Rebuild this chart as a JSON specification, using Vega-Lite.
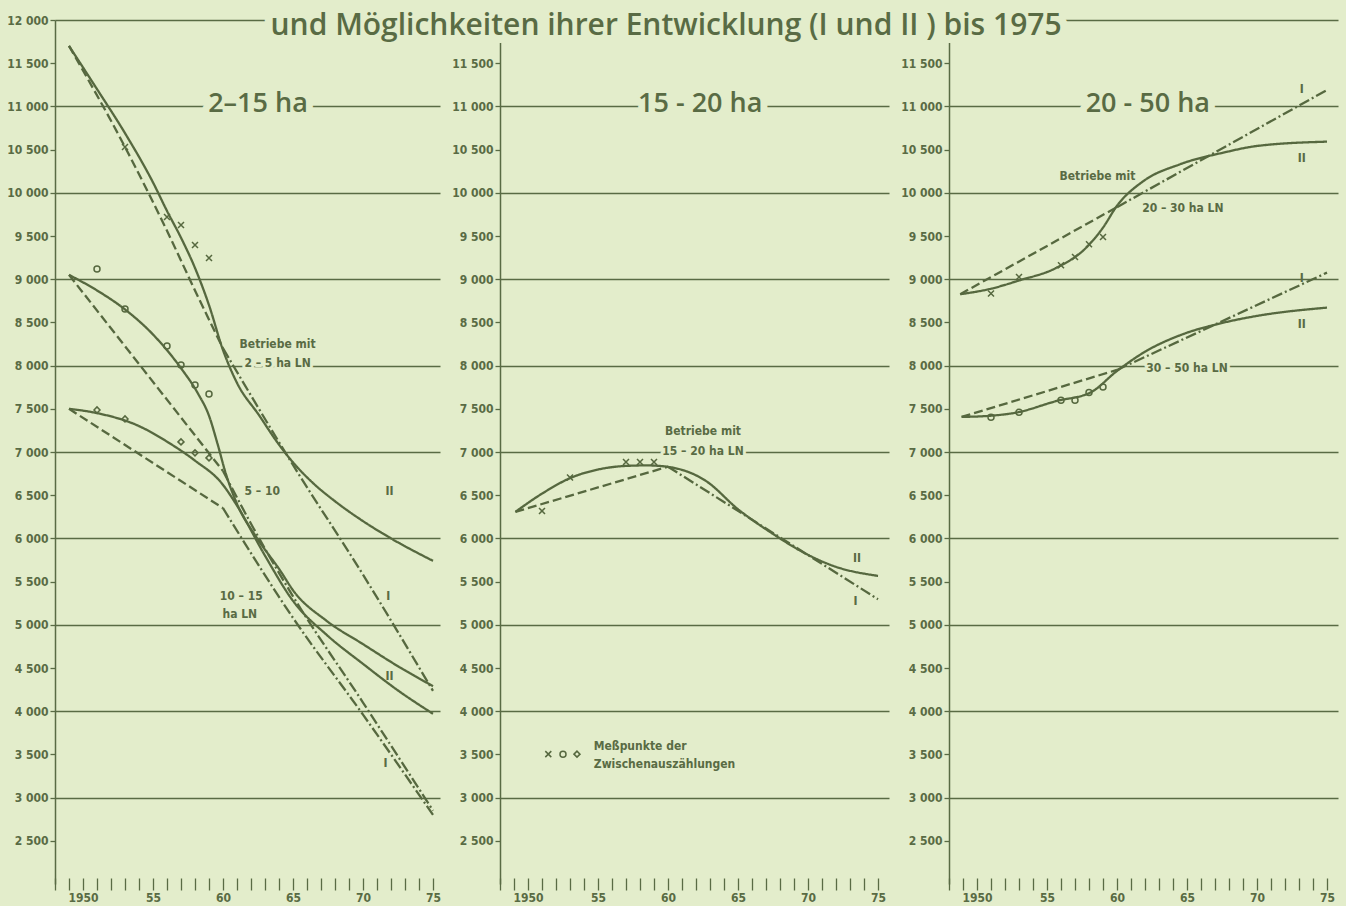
{
  "$schema": "https://vega.github.io/schema/vega-lite/v6.json",
  "padding": {"left": 6, "top": 10, "right": 8, "bottom": 3},
  "bounds": "flush",
  "spacing": 60,
  "resolve": {"scale": {"x": "independent", "y": "independent"}},
  "datasets": {
    "gridYears": [{"year": 1950}, {"year": 1955}, {"year": 1960}, {"year": 1965}, {"year": 1970}, {"year": 1975}],
    "curves": [
      {"panel": "2-15 ha", "series": "2-5", "kind": "II", "year": 1949, "value": 11700},
      {"panel": "2-15 ha", "series": "2-5", "kind": "II", "year": 1951, "value": 11200},
      {"panel": "2-15 ha", "series": "2-5", "kind": "II", "year": 1953, "value": 10690},
      {"panel": "2-15 ha", "series": "2-5", "kind": "II", "year": 1955, "value": 10120},
      {"panel": "2-15 ha", "series": "2-5", "kind": "II", "year": 1956, "value": 9790},
      {"panel": "2-15 ha", "series": "2-5", "kind": "II", "year": 1957, "value": 9480},
      {"panel": "2-15 ha", "series": "2-5", "kind": "II", "year": 1958, "value": 9130},
      {"panel": "2-15 ha", "series": "2-5", "kind": "II", "year": 1959, "value": 8700},
      {"panel": "2-15 ha", "series": "2-5", "kind": "II", "year": 1960, "value": 8180},
      {"panel": "2-15 ha", "series": "2-5", "kind": "II", "year": 1961, "value": 7800},
      {"panel": "2-15 ha", "series": "2-5", "kind": "II", "year": 1962.6, "value": 7420},
      {"panel": "2-15 ha", "series": "2-5", "kind": "II", "year": 1963.8, "value": 7130},
      {"panel": "2-15 ha", "series": "2-5", "kind": "II", "year": 1965, "value": 6880},
      {"panel": "2-15 ha", "series": "2-5", "kind": "II", "year": 1966.5, "value": 6630},
      {"panel": "2-15 ha", "series": "2-5", "kind": "II", "year": 1968, "value": 6430},
      {"panel": "2-15 ha", "series": "2-5", "kind": "II", "year": 1970, "value": 6200},
      {"panel": "2-15 ha", "series": "2-5", "kind": "II", "year": 1972, "value": 6000},
      {"panel": "2-15 ha", "series": "2-5", "kind": "II", "year": 1975, "value": 5740},
      {"panel": "2-15 ha", "series": "2-5", "kind": "Trend", "year": 1949, "value": 11700},
      {"panel": "2-15 ha", "series": "2-5", "kind": "Trend", "year": 1953, "value": 10530},
      {"panel": "2-15 ha", "series": "2-5", "kind": "Trend", "year": 1956, "value": 9560},
      {"panel": "2-15 ha", "series": "2-5", "kind": "Trend", "year": 1958, "value": 8870},
      {"panel": "2-15 ha", "series": "2-5", "kind": "Trend", "year": 1960, "value": 8200},
      {"panel": "2-15 ha", "series": "2-5", "kind": "Projektion", "year": 1960, "value": 8200},
      {"panel": "2-15 ha", "series": "2-5", "kind": "Projektion", "year": 1965, "value": 6850},
      {"panel": "2-15 ha", "series": "2-5", "kind": "Projektion", "year": 1970, "value": 5580},
      {"panel": "2-15 ha", "series": "2-5", "kind": "Projektion", "year": 1975, "value": 4235},
      {"panel": "2-15 ha", "series": "5-10", "kind": "II", "year": 1949, "value": 9050},
      {"panel": "2-15 ha", "series": "5-10", "kind": "II", "year": 1951, "value": 8870},
      {"panel": "2-15 ha", "series": "5-10", "kind": "II", "year": 1953, "value": 8650},
      {"panel": "2-15 ha", "series": "5-10", "kind": "II", "year": 1955, "value": 8360},
      {"panel": "2-15 ha", "series": "5-10", "kind": "II", "year": 1957, "value": 7970},
      {"panel": "2-15 ha", "series": "5-10", "kind": "II", "year": 1958.2, "value": 7680},
      {"panel": "2-15 ha", "series": "5-10", "kind": "II", "year": 1959, "value": 7420},
      {"panel": "2-15 ha", "series": "5-10", "kind": "II", "year": 1959.6, "value": 7100},
      {"panel": "2-15 ha", "series": "5-10", "kind": "II", "year": 1960.2, "value": 6750},
      {"panel": "2-15 ha", "series": "5-10", "kind": "II", "year": 1961, "value": 6400},
      {"panel": "2-15 ha", "series": "5-10", "kind": "II", "year": 1962.4, "value": 6010},
      {"panel": "2-15 ha", "series": "5-10", "kind": "II", "year": 1964.1, "value": 5624},
      {"panel": "2-15 ha", "series": "5-10", "kind": "II", "year": 1965, "value": 5400},
      {"panel": "2-15 ha", "series": "5-10", "kind": "II", "year": 1967.4, "value": 5046},
      {"panel": "2-15 ha", "series": "5-10", "kind": "II", "year": 1970, "value": 4776},
      {"panel": "2-15 ha", "series": "5-10", "kind": "II", "year": 1972.5, "value": 4520},
      {"panel": "2-15 ha", "series": "5-10", "kind": "II", "year": 1975, "value": 4290},
      {"panel": "2-15 ha", "series": "5-10", "kind": "Trend", "year": 1949, "value": 9050},
      {"panel": "2-15 ha", "series": "5-10", "kind": "Trend", "year": 1960, "value": 6780},
      {"panel": "2-15 ha", "series": "5-10", "kind": "Projektion", "year": 1960, "value": 6780},
      {"panel": "2-15 ha", "series": "5-10", "kind": "Projektion", "year": 1962, "value": 6170},
      {"panel": "2-15 ha", "series": "5-10", "kind": "Projektion", "year": 1965, "value": 5330},
      {"panel": "2-15 ha", "series": "5-10", "kind": "Projektion", "year": 1970, "value": 4100},
      {"panel": "2-15 ha", "series": "5-10", "kind": "Projektion", "year": 1975, "value": 2850},
      {"panel": "2-15 ha", "series": "10-15", "kind": "II", "year": 1949, "value": 7500},
      {"panel": "2-15 ha", "series": "10-15", "kind": "II", "year": 1951, "value": 7450},
      {"panel": "2-15 ha", "series": "10-15", "kind": "II", "year": 1954, "value": 7300},
      {"panel": "2-15 ha", "series": "10-15", "kind": "II", "year": 1956, "value": 7120},
      {"panel": "2-15 ha", "series": "10-15", "kind": "II", "year": 1958, "value": 6900},
      {"panel": "2-15 ha", "series": "10-15", "kind": "II", "year": 1959.9, "value": 6640},
      {"panel": "2-15 ha", "series": "10-15", "kind": "II", "year": 1961, "value": 6380},
      {"panel": "2-15 ha", "series": "10-15", "kind": "II", "year": 1963, "value": 5800},
      {"panel": "2-15 ha", "series": "10-15", "kind": "II", "year": 1965, "value": 5277},
      {"panel": "2-15 ha", "series": "10-15", "kind": "II", "year": 1967.5, "value": 4870},
      {"panel": "2-15 ha", "series": "10-15", "kind": "II", "year": 1970, "value": 4548},
      {"panel": "2-15 ha", "series": "10-15", "kind": "II", "year": 1972.5, "value": 4240},
      {"panel": "2-15 ha", "series": "10-15", "kind": "II", "year": 1975, "value": 3970},
      {"panel": "2-15 ha", "series": "10-15", "kind": "Trend", "year": 1949, "value": 7500},
      {"panel": "2-15 ha", "series": "10-15", "kind": "Trend", "year": 1960, "value": 6350},
      {"panel": "2-15 ha", "series": "10-15", "kind": "Projektion", "year": 1960, "value": 6350},
      {"panel": "2-15 ha", "series": "10-15", "kind": "Projektion", "year": 1965, "value": 5080},
      {"panel": "2-15 ha", "series": "10-15", "kind": "Projektion", "year": 1970, "value": 3960},
      {"panel": "2-15 ha", "series": "10-15", "kind": "Projektion", "year": 1975, "value": 2800},
      {"panel": "15-20 ha", "series": "15-20", "kind": "II", "year": 1949.1, "value": 6307},
      {"panel": "15-20 ha", "series": "15-20", "kind": "II", "year": 1951, "value": 6518},
      {"panel": "15-20 ha", "series": "15-20", "kind": "II", "year": 1953.1, "value": 6704},
      {"panel": "15-20 ha", "series": "15-20", "kind": "II", "year": 1955, "value": 6797},
      {"panel": "15-20 ha", "series": "15-20", "kind": "II", "year": 1957, "value": 6839},
      {"panel": "15-20 ha", "series": "15-20", "kind": "II", "year": 1958.5, "value": 6845},
      {"panel": "15-20 ha", "series": "15-20", "kind": "II", "year": 1960, "value": 6828},
      {"panel": "15-20 ha", "series": "15-20", "kind": "II", "year": 1962.7, "value": 6666},
      {"panel": "15-20 ha", "series": "15-20", "kind": "II", "year": 1965, "value": 6338},
      {"panel": "15-20 ha", "series": "15-20", "kind": "II", "year": 1967.5, "value": 6052},
      {"panel": "15-20 ha", "series": "15-20", "kind": "II", "year": 1969.9, "value": 5818},
      {"panel": "15-20 ha", "series": "15-20", "kind": "II", "year": 1971.8, "value": 5682},
      {"panel": "15-20 ha", "series": "15-20", "kind": "II", "year": 1975, "value": 5566},
      {"panel": "15-20 ha", "series": "15-20", "kind": "Trend", "year": 1949.1, "value": 6307},
      {"panel": "15-20 ha", "series": "15-20", "kind": "Trend", "year": 1960, "value": 6830},
      {"panel": "15-20 ha", "series": "15-20", "kind": "Projektion", "year": 1960, "value": 6830},
      {"panel": "15-20 ha", "series": "15-20", "kind": "Projektion", "year": 1975, "value": 5296},
      {"panel": "20-50 ha", "series": "20-30", "kind": "II", "year": 1948.8, "value": 8826},
      {"panel": "20-50 ha", "series": "20-30", "kind": "II", "year": 1951, "value": 8890},
      {"panel": "20-50 ha", "series": "20-30", "kind": "II", "year": 1953, "value": 8985},
      {"panel": "20-50 ha", "series": "20-30", "kind": "II", "year": 1955.7, "value": 9134},
      {"panel": "20-50 ha", "series": "20-30", "kind": "II", "year": 1957.8, "value": 9365},
      {"panel": "20-50 ha", "series": "20-30", "kind": "II", "year": 1959, "value": 9597},
      {"panel": "20-50 ha", "series": "20-30", "kind": "II", "year": 1960, "value": 9850},
      {"panel": "20-50 ha", "series": "20-30", "kind": "II", "year": 1961.9, "value": 10137},
      {"panel": "20-50 ha", "series": "20-30", "kind": "II", "year": 1964.5, "value": 10330},
      {"panel": "20-50 ha", "series": "20-30", "kind": "II", "year": 1967.6, "value": 10465},
      {"panel": "20-50 ha", "series": "20-30", "kind": "II", "year": 1970, "value": 10542},
      {"panel": "20-50 ha", "series": "20-30", "kind": "II", "year": 1975, "value": 10592},
      {"panel": "20-50 ha", "series": "20-30", "kind": "Trend", "year": 1948.8, "value": 8826},
      {"panel": "20-50 ha", "series": "20-30", "kind": "Trend", "year": 1960, "value": 9834},
      {"panel": "20-50 ha", "series": "20-30", "kind": "Projektion", "year": 1960, "value": 9834},
      {"panel": "20-50 ha", "series": "20-30", "kind": "Projektion", "year": 1975, "value": 11190},
      {"panel": "20-50 ha", "series": "30-50", "kind": "II", "year": 1948.9, "value": 7406},
      {"panel": "20-50 ha", "series": "30-50", "kind": "II", "year": 1951, "value": 7420},
      {"panel": "20-50 ha", "series": "30-50", "kind": "II", "year": 1952.8, "value": 7456},
      {"panel": "20-50 ha", "series": "30-50", "kind": "II", "year": 1955.7, "value": 7591},
      {"panel": "20-50 ha", "series": "30-50", "kind": "II", "year": 1958.1, "value": 7688},
      {"panel": "20-50 ha", "series": "30-50", "kind": "II", "year": 1960, "value": 7938},
      {"panel": "20-50 ha", "series": "30-50", "kind": "II", "year": 1962.1, "value": 8170},
      {"panel": "20-50 ha", "series": "30-50", "kind": "II", "year": 1964.7, "value": 8363},
      {"panel": "20-50 ha", "series": "30-50", "kind": "II", "year": 1967.6, "value": 8497},
      {"panel": "20-50 ha", "series": "30-50", "kind": "II", "year": 1970, "value": 8575},
      {"panel": "20-50 ha", "series": "30-50", "kind": "II", "year": 1975, "value": 8671},
      {"panel": "20-50 ha", "series": "30-50", "kind": "Trend", "year": 1948.9, "value": 7406},
      {"panel": "20-50 ha", "series": "30-50", "kind": "Trend", "year": 1960, "value": 7950},
      {"panel": "20-50 ha", "series": "30-50", "kind": "Projektion", "year": 1960, "value": 7950},
      {"panel": "20-50 ha", "series": "30-50", "kind": "Projektion", "year": 1975, "value": 9076}
    ],
    "points": [
      {"panel": "2-15 ha", "marker": "x", "year": 1953, "value": 10530},
      {"panel": "2-15 ha", "marker": "x", "year": 1956, "value": 9720},
      {"panel": "2-15 ha", "marker": "x", "year": 1957, "value": 9628},
      {"panel": "2-15 ha", "marker": "x", "year": 1958, "value": 9396},
      {"panel": "2-15 ha", "marker": "x", "year": 1959, "value": 9246},
      {"panel": "2-15 ha", "marker": "o", "year": 1951, "value": 9119},
      {"panel": "2-15 ha", "marker": "o", "year": 1953, "value": 8656},
      {"panel": "2-15 ha", "marker": "o", "year": 1956, "value": 8228},
      {"panel": "2-15 ha", "marker": "o", "year": 1957, "value": 8008},
      {"panel": "2-15 ha", "marker": "o", "year": 1958, "value": 7776},
      {"panel": "2-15 ha", "marker": "o", "year": 1959, "value": 7672},
      {"panel": "2-15 ha", "marker": "d", "year": 1951, "value": 7487},
      {"panel": "2-15 ha", "marker": "d", "year": 1953, "value": 7383},
      {"panel": "2-15 ha", "marker": "d", "year": 1957, "value": 7117},
      {"panel": "2-15 ha", "marker": "d", "year": 1958, "value": 6990},
      {"panel": "2-15 ha", "marker": "d", "year": 1959, "value": 6932},
      {"panel": "15-20 ha", "marker": "x", "year": 1951, "value": 6318},
      {"panel": "15-20 ha", "marker": "x", "year": 1953, "value": 6704},
      {"panel": "15-20 ha", "marker": "x", "year": 1957, "value": 6885},
      {"panel": "15-20 ha", "marker": "x", "year": 1958, "value": 6885},
      {"panel": "15-20 ha", "marker": "x", "year": 1959, "value": 6885},
      {"panel": "15-20 ha", "marker": "x", "year": 1951.45, "value": 3503},
      {"panel": "15-20 ha", "marker": "o", "year": 1952.5, "value": 3503},
      {"panel": "15-20 ha", "marker": "d", "year": 1953.5, "value": 3503},
      {"panel": "20-50 ha", "marker": "x", "year": 1951, "value": 8834},
      {"panel": "20-50 ha", "marker": "x", "year": 1953, "value": 9026},
      {"panel": "20-50 ha", "marker": "x", "year": 1956, "value": 9161},
      {"panel": "20-50 ha", "marker": "x", "year": 1957, "value": 9258},
      {"panel": "20-50 ha", "marker": "x", "year": 1958, "value": 9404},
      {"panel": "20-50 ha", "marker": "x", "year": 1959, "value": 9489},
      {"panel": "20-50 ha", "marker": "o", "year": 1951, "value": 7402},
      {"panel": "20-50 ha", "marker": "o", "year": 1953, "value": 7459},
      {"panel": "20-50 ha", "marker": "o", "year": 1956, "value": 7599},
      {"panel": "20-50 ha", "marker": "o", "year": 1957, "value": 7599},
      {"panel": "20-50 ha", "marker": "o", "year": 1958, "value": 7688},
      {"panel": "20-50 ha", "marker": "o", "year": 1959, "value": 7753}
    ],
    "labels": [
      {"panel": "2-15 ha", "kind": "heading", "year": 1962.5, "value": 11030, "text": "2–15 ha"},
      {"panel": "2-15 ha", "kind": "label", "year": 1963.9, "value": 8251, "text": "Betriebe mit"},
      {"panel": "2-15 ha", "kind": "label", "year": 1963.9, "value": 8030, "text": "2 – 5 ha LN"},
      {"panel": "2-15 ha", "kind": "label", "year": 1962.8, "value": 6550, "text": "5 – 10"},
      {"panel": "2-15 ha", "kind": "label", "year": 1961.3, "value": 5335, "text": "10 – 15"},
      {"panel": "2-15 ha", "kind": "label", "year": 1961.2, "value": 5127, "text": "ha LN"},
      {"panel": "2-15 ha", "kind": "roman", "year": 1971.9, "value": 6550, "text": "II"},
      {"panel": "2-15 ha", "kind": "roman", "year": 1971.8, "value": 5330, "text": "I"},
      {"panel": "2-15 ha", "kind": "roman", "year": 1971.9, "value": 4410, "text": "II"},
      {"panel": "2-15 ha", "kind": "roman", "year": 1971.6, "value": 3405, "text": "I"},
      {"panel": "15-20 ha", "kind": "heading", "year": 1962.3, "value": 11030, "text": "15 - 20 ha"},
      {"panel": "15-20 ha", "kind": "label", "year": 1962.5, "value": 7244, "text": "Betriebe mit"},
      {"panel": "15-20 ha", "kind": "label", "year": 1962.5, "value": 7013, "text": "15 – 20 ha LN"},
      {"panel": "15-20 ha", "kind": "roman", "year": 1973.5, "value": 5775, "text": "II"},
      {"panel": "15-20 ha", "kind": "roman", "year": 1973.4, "value": 5277, "text": "I"},
      {"panel": "15-20 ha", "kind": "legend", "year": 1954.7, "value": 3600, "text": "Meßpunkte der"},
      {"panel": "15-20 ha", "kind": "legend", "year": 1954.7, "value": 3390, "text": "Zwischenauszählungen"},
      {"panel": "20-50 ha", "kind": "heading", "year": 1962.2, "value": 11030, "text": "20 - 50 ha"},
      {"panel": "20-50 ha", "kind": "label", "year": 1958.6, "value": 10200, "text": "Betriebe mit"},
      {"panel": "20-50 ha", "kind": "label", "year": 1964.7, "value": 9828, "text": "20 – 30 ha LN"},
      {"panel": "20-50 ha", "kind": "label", "year": 1965, "value": 7977, "text": "30 – 50 ha LN"},
      {"panel": "20-50 ha", "kind": "roman", "year": 1973.2, "value": 11205, "text": "I"},
      {"panel": "20-50 ha", "kind": "roman", "year": 1973.2, "value": 10407, "text": "II"},
      {"panel": "20-50 ha", "kind": "roman", "year": 1973.2, "value": 9018, "text": "I"},
      {"panel": "20-50 ha", "kind": "roman", "year": 1973.2, "value": 8479, "text": "II"},
      {"panel": "20-50 ha", "kind": "title", "year": 1927.79, "value": 11931, "text": "und Möglichkeiten ihrer Entwicklung (I und II ) bis 1975"}
    ]
  },
  "hconcat": [
    {
      "width": 385, "height": 864,
      "encoding": {
        "x": {"field": "year", "type": "quantitative", "title": null, "scale": {"domain": [1948, 1975.5], "nice": false, "zero": false},
          "axis": {"values": [1948,1949,1950,1951,1952,1953,1954,1955,1956,1957,1958,1959,1960,1961,1962,1963,1964,1965,1966,1967,1968,1969,1970,1971,1972,1973,1974,1975], "offset": -6, "domain": false, "grid": false, "tickSize": 12, "tickWidth": 1.3, "labelPadding": 2, "labelExpr": "datum.value % 5 == 0 ? (datum.value == 1950 ? '1950' : slice(toString(datum.value), 2)) : ''"}},
        "y": {"field": "value", "type": "quantitative", "title": null, "scale": {"domain": [2000, 12000], "nice": false, "zero": false},
          "axis": {"values": [2500,3000,3500,4000,4500,5000,5500,6000,6500,7000,7500,8000,8500,9000,9500,10000,10500,11000,11500,12000], "tickSize": 5, "tickWidth": 1.3, "domainWidth": 1.5, "grid": true, "gridWidth": 1.3, "gridOpacity": {"condition": {"test": "datum.value % 1000 == 0 && datum.value >= 3000", "value": 1}, "value": 0}, "labelPadding": 2, "labelExpr": "replace(format(datum.value, ','), ',', ' ')"}}
      },
      "layer": [
        {"data": {"name": "gridYears"}, "mark": {"type": "rule", "color": "#596b44", "strokeWidth": 1.3}, "encoding": {"y": {"datum": 2300}, "y2": {"datum": 12080}}},
        {"data": {"values": [{}]}, "mark": {"type": "rule", "color": "#596b44", "strokeWidth": 1.5}, "encoding": {"x": {"datum": 1948}, "x2": {"datum": 1975.5}, "y": {"datum": 2000}}},
        {"data": {"name": "labels"}, "transform": [{"filter": "datum.panel == '2-15 ha' && datum.kind == 'heading'"}], "mark": {"type": "text", "font": "Open Sans", "fontSize": 27, "fontWeight": 600, "fill": "#e3edcb", "stroke": "#e3edcb", "strokeWidth": 14, "strokeJoin": "round"}, "encoding": {"text": {"field": "text"}}},
        {"data": {"name": "labels"}, "transform": [{"filter": "datum.panel == '2-15 ha' && datum.kind == 'label'"}], "mark": {"type": "text", "font": "Liberation Sans Narrow, DejaVu Sans Condensed, Roboto", "fontSize": 12, "fontWeight": "bold", "fill": "#e3edcb", "stroke": "#e3edcb", "strokeWidth": 6, "strokeJoin": "round"}, "encoding": {"text": {"field": "text"}}},
        {"data": {"name": "curves"}, "transform": [{"filter": "datum.panel == '2-15 ha'"}], "mark": {"type": "line", "interpolate": "monotone", "color": "#56683f", "strokeWidth": 2.3}, "encoding": {"strokeDash": {"field": "kind", "type": "nominal", "scale": {"domain": ["II", "Trend", "Projektion"], "range": [[1, 0], [9, 4], [11, 3, 2, 3]]}, "legend": null}, "detail": {"field": "series"}}},
        {"data": {"name": "points"}, "transform": [{"filter": "datum.panel == '2-15 ha'"}], "mark": {"type": "point", "filled": false, "color": "#56683f", "strokeWidth": 1.5, "size": 36, "opacity": 1}, "encoding": {"shape": {"field": "marker", "type": "nominal", "scale": {"domain": ["x", "o", "d"], "range": ["M-1,-1L1,1M-1,1L1,-1", "circle", "diamond"]}, "legend": null}}},
        {"data": {"name": "labels"}, "transform": [{"filter": "datum.panel == '2-15 ha' && datum.kind == 'heading'"}], "mark": {"type": "text", "font": "Open Sans", "fontSize": 27, "fontWeight": 600, "fill": "#596b44"}, "encoding": {"text": {"field": "text"}}},
        {"data": {"name": "labels"}, "transform": [{"filter": "datum.panel == '2-15 ha' && (datum.kind == 'label' || datum.kind == 'roman')"}], "mark": {"type": "text", "font": "Liberation Sans Narrow, DejaVu Sans Condensed, Roboto", "fontSize": 12, "fontWeight": "bold", "fill": "#596b44"}, "encoding": {"text": {"field": "text"}}}
      ]
    },
    {
      "width": 389, "height": 864,
      "encoding": {
        "x": {"field": "year", "type": "quantitative", "title": null, "scale": {"domain": [1948, 1975.786], "nice": false, "zero": false},
          "axis": {"values": [1948,1949,1950,1951,1952,1953,1954,1955,1956,1957,1958,1959,1960,1961,1962,1963,1964,1965,1966,1967,1968,1969,1970,1971,1972,1973,1974,1975], "offset": -6, "domain": false, "grid": false, "tickSize": 12, "tickWidth": 1.3, "labelPadding": 2, "labelExpr": "datum.value % 5 == 0 ? (datum.value == 1950 ? '1950' : slice(toString(datum.value), 2)) : ''"}},
        "y": {"field": "value", "type": "quantitative", "title": null, "scale": {"domain": [2000, 12000], "nice": false, "zero": false},
          "axis": {"values": [2500,3000,3500,4000,4500,5000,5500,6000,6500,7000,7500,8000,8500,9000,9500,10000,10500,11000,11500,12000], "tickSize": 5, "tickWidth": 1.3, "domainWidth": 1.5, "grid": true, "gridWidth": 1.3, "gridOpacity": {"condition": {"test": "datum.value % 1000 == 0 && datum.value >= 3000", "value": 1}, "value": 0}, "labelPadding": 2, "labelExpr": "datum.value >= 12000 ? '' : replace(format(datum.value, ','), ',', ' ')"}}
      },
      "layer": [
        {"data": {"name": "gridYears"}, "mark": {"type": "rule", "color": "#596b44", "strokeWidth": 1.3}, "encoding": {"y": {"datum": 2300}, "y2": {"datum": 12080}}},
        {"data": {"values": [{}]}, "mark": {"type": "rule", "color": "#596b44", "strokeWidth": 1.5}, "encoding": {"x": {"datum": 1948}, "x2": {"datum": 1975.786}, "y": {"datum": 2000}}},
        {"data": {"name": "labels"}, "transform": [{"filter": "datum.panel == '15-20 ha' && datum.kind == 'heading'"}], "mark": {"type": "text", "font": "Open Sans", "fontSize": 27, "fontWeight": 600, "fill": "#e3edcb", "stroke": "#e3edcb", "strokeWidth": 14, "strokeJoin": "round"}, "encoding": {"text": {"field": "text"}}},
        {"data": {"name": "labels"}, "transform": [{"filter": "datum.panel == '15-20 ha' && datum.kind == 'label'"}], "mark": {"type": "text", "font": "Liberation Sans Narrow, DejaVu Sans Condensed, Roboto", "fontSize": 12, "fontWeight": "bold", "fill": "#e3edcb", "stroke": "#e3edcb", "strokeWidth": 6, "strokeJoin": "round"}, "encoding": {"text": {"field": "text"}}},
        {"data": {"name": "labels"}, "transform": [{"filter": "datum.panel == '15-20 ha' && datum.kind == 'legend'"}], "mark": {"type": "text", "align": "left", "font": "Liberation Sans Narrow, DejaVu Sans Condensed, Roboto", "fontSize": 12, "fontWeight": "bold", "fill": "#e3edcb", "stroke": "#e3edcb", "strokeWidth": 6, "strokeJoin": "round"}, "encoding": {"text": {"field": "text"}}},
        {"data": {"name": "curves"}, "transform": [{"filter": "datum.panel == '15-20 ha'"}], "mark": {"type": "line", "interpolate": "monotone", "color": "#56683f", "strokeWidth": 2.3}, "encoding": {"strokeDash": {"field": "kind", "type": "nominal", "scale": {"domain": ["II", "Trend", "Projektion"], "range": [[1, 0], [9, 4], [11, 3, 2, 3]]}, "legend": null}, "detail": {"field": "series"}}},
        {"data": {"name": "points"}, "transform": [{"filter": "datum.panel == '15-20 ha'"}], "mark": {"type": "point", "filled": false, "color": "#56683f", "strokeWidth": 1.5, "size": 36, "opacity": 1}, "encoding": {"shape": {"field": "marker", "type": "nominal", "scale": {"domain": ["x", "o", "d"], "range": ["M-1,-1L1,1M-1,1L1,-1", "circle", "diamond"]}, "legend": null}}},
        {"data": {"name": "labels"}, "transform": [{"filter": "datum.panel == '15-20 ha' && datum.kind == 'heading'"}], "mark": {"type": "text", "font": "Open Sans", "fontSize": 27, "fontWeight": 600, "fill": "#596b44"}, "encoding": {"text": {"field": "text"}}},
        {"data": {"name": "labels"}, "transform": [{"filter": "datum.panel == '15-20 ha' && (datum.kind == 'label' || datum.kind == 'roman')"}], "mark": {"type": "text", "font": "Liberation Sans Narrow, DejaVu Sans Condensed, Roboto", "fontSize": 12, "fontWeight": "bold", "fill": "#596b44"}, "encoding": {"text": {"field": "text"}}},
        {"data": {"name": "labels"}, "transform": [{"filter": "datum.panel == '15-20 ha' && datum.kind == 'legend'"}], "mark": {"type": "text", "align": "left", "font": "Liberation Sans Narrow, DejaVu Sans Condensed, Roboto", "fontSize": 12, "fontWeight": "bold", "fill": "#596b44"}, "encoding": {"text": {"field": "text"}}}
      ]
    },
    {
      "width": 389, "height": 864,
      "encoding": {
        "x": {"field": "year", "type": "quantitative", "title": null, "scale": {"domain": [1948, 1975.786], "nice": false, "zero": false},
          "axis": {"values": [1948,1949,1950,1951,1952,1953,1954,1955,1956,1957,1958,1959,1960,1961,1962,1963,1964,1965,1966,1967,1968,1969,1970,1971,1972,1973,1974,1975], "offset": -6, "domain": false, "grid": false, "tickSize": 12, "tickWidth": 1.3, "labelPadding": 2, "labelExpr": "datum.value % 5 == 0 ? (datum.value == 1950 ? '1950' : slice(toString(datum.value), 2)) : ''"}},
        "y": {"field": "value", "type": "quantitative", "title": null, "scale": {"domain": [2000, 12000], "nice": false, "zero": false},
          "axis": {"values": [2500,3000,3500,4000,4500,5000,5500,6000,6500,7000,7500,8000,8500,9000,9500,10000,10500,11000,11500,12000], "tickSize": 5, "tickWidth": 1.3, "domainWidth": 1.5, "grid": true, "gridWidth": 1.3, "gridOpacity": {"condition": {"test": "datum.value % 1000 == 0 && datum.value >= 3000", "value": 1}, "value": 0}, "labelPadding": 2, "labelExpr": "datum.value >= 12000 ? '' : replace(format(datum.value, ','), ',', ' ')"}}
      },
      "layer": [
        {"data": {"name": "gridYears"}, "mark": {"type": "rule", "color": "#596b44", "strokeWidth": 1.3}, "encoding": {"y": {"datum": 2300}, "y2": {"datum": 12080}}},
        {"data": {"values": [{}]}, "mark": {"type": "rule", "color": "#596b44", "strokeWidth": 1.5}, "encoding": {"x": {"datum": 1948}, "x2": {"datum": 1975.786}, "y": {"datum": 2000}}},
        {"data": {"name": "labels"}, "transform": [{"filter": "datum.panel == '20-50 ha' && datum.kind == 'heading'"}], "mark": {"type": "text", "font": "Open Sans", "fontSize": 27, "fontWeight": 600, "fill": "#e3edcb", "stroke": "#e3edcb", "strokeWidth": 14, "strokeJoin": "round"}, "encoding": {"text": {"field": "text"}}},
        {"data": {"name": "labels"}, "transform": [{"filter": "datum.panel == '20-50 ha' && datum.kind == 'title'"}], "mark": {"type": "text", "font": "Open Sans", "fontSize": 30, "fontWeight": 600, "fill": "#e3edcb", "stroke": "#e3edcb", "strokeWidth": 16, "strokeJoin": "round"}, "encoding": {"text": {"field": "text"}}},
        {"data": {"name": "labels"}, "transform": [{"filter": "datum.panel == '20-50 ha' && datum.kind == 'label'"}], "mark": {"type": "text", "font": "Liberation Sans Narrow, DejaVu Sans Condensed, Roboto", "fontSize": 12, "fontWeight": "bold", "fill": "#e3edcb", "stroke": "#e3edcb", "strokeWidth": 6, "strokeJoin": "round"}, "encoding": {"text": {"field": "text"}}},
        {"data": {"name": "curves"}, "transform": [{"filter": "datum.panel == '20-50 ha'"}], "mark": {"type": "line", "interpolate": "monotone", "color": "#56683f", "strokeWidth": 2.3}, "encoding": {"strokeDash": {"field": "kind", "type": "nominal", "scale": {"domain": ["II", "Trend", "Projektion"], "range": [[1, 0], [9, 4], [11, 3, 2, 3]]}, "legend": null}, "detail": {"field": "series"}}},
        {"data": {"name": "points"}, "transform": [{"filter": "datum.panel == '20-50 ha'"}], "mark": {"type": "point", "filled": false, "color": "#56683f", "strokeWidth": 1.5, "size": 36, "opacity": 1}, "encoding": {"shape": {"field": "marker", "type": "nominal", "scale": {"domain": ["x", "o", "d"], "range": ["M-1,-1L1,1M-1,1L1,-1", "circle", "diamond"]}, "legend": null}}},
        {"data": {"name": "labels"}, "transform": [{"filter": "datum.panel == '20-50 ha' && datum.kind == 'heading'"}], "mark": {"type": "text", "font": "Open Sans", "fontSize": 27, "fontWeight": 600, "fill": "#596b44"}, "encoding": {"text": {"field": "text"}}},
        {"data": {"name": "labels"}, "transform": [{"filter": "datum.panel == '20-50 ha' && datum.kind == 'title'"}], "mark": {"type": "text", "font": "Open Sans", "fontSize": 30, "fontWeight": 600, "fill": "#596b44"}, "encoding": {"text": {"field": "text"}}},
        {"data": {"name": "labels"}, "transform": [{"filter": "datum.panel == '20-50 ha' && (datum.kind == 'label' || datum.kind == 'roman')"}], "mark": {"type": "text", "font": "Liberation Sans Narrow, DejaVu Sans Condensed, Roboto", "fontSize": 12, "fontWeight": "bold", "fill": "#596b44"}, "encoding": {"text": {"field": "text"}}}
      ]
    }
  ],
  "config": {
    "background": "#e3edcb",
    "view": {"stroke": null},
    "axis": {"labelFont": "Liberation Sans Narrow, DejaVu Sans Condensed, Roboto", "labelFontSize": 12, "labelFontWeight": "bold", "labelColor": "#596b44", "tickColor": "#596b44", "domainColor": "#596b44", "gridColor": "#596b44", "labelFlush": false, "labelOverlap": false}
  }
}
